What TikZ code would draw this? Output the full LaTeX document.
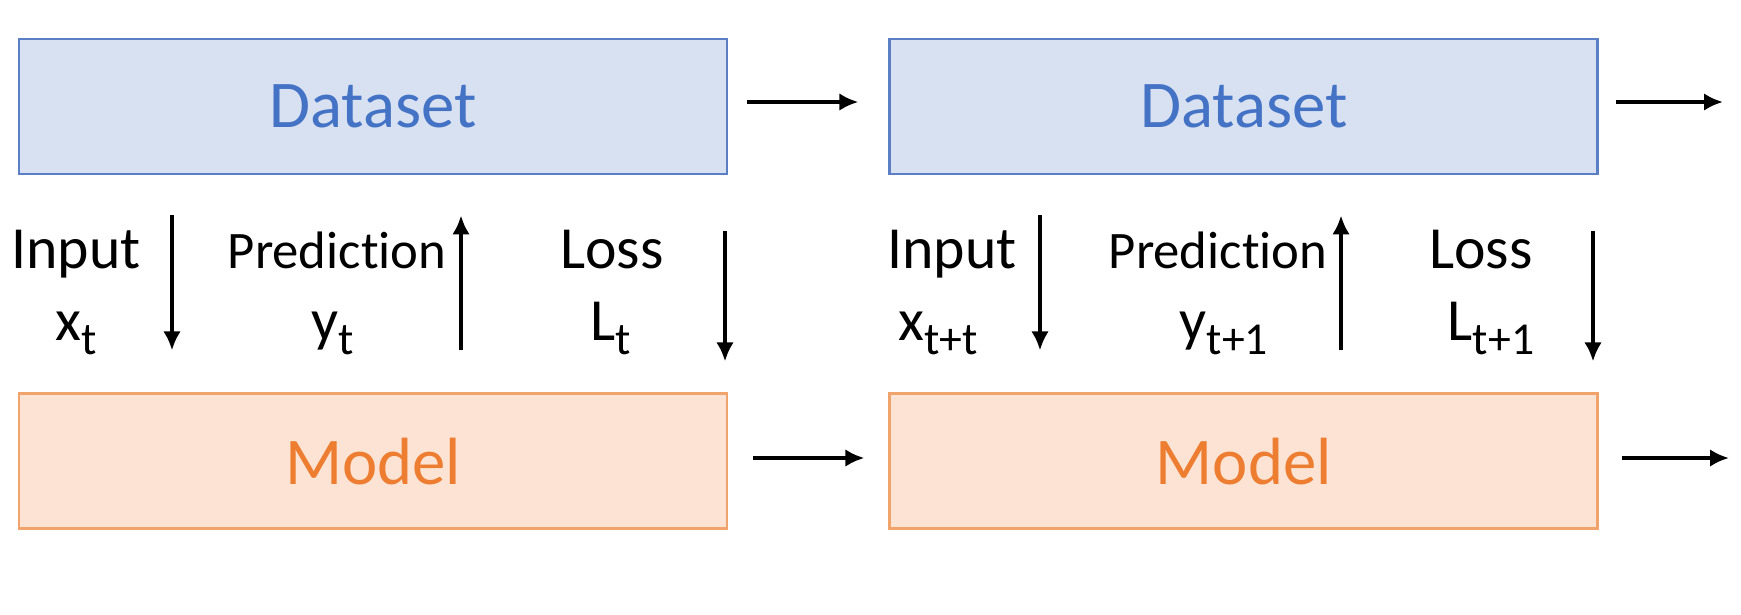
\documentclass[tikz,border=0pt]{standalone}
\usepackage{fontspec}
\setmainfont{Carlito}[Ligatures=NoCommon]
\usepackage{xcolor}
\usepackage{tikz}
\usetikzlibrary{positioning,arrows.meta}

\definecolor{dataline}{HTML}{5A7FC4}
\definecolor{datafill}{HTML}{D7E1F2}
\definecolor{datatext}{HTML}{4472C4}
\definecolor{modelline}{HTML}{F0A46C}
\definecolor{modelfill}{HTML}{FCE3D3}
\definecolor{modeltext}{HTML}{ED7D31}

\tikzset{
    databox/.style={draw=dataline, fill=datafill, line width=0.8pt, minimum width=7.08cm, minimum height=1.35cm, inner sep=0pt, text=datatext, font=\fontsize{19}{22}\selectfont},
    modelbox/.style={draw=modelline, fill=modelfill, line width=0.8pt, minimum width=7.08cm, minimum height=1.35cm, inner sep=0pt, text=modeltext, font=\fontsize{19}{22}\selectfont},
    lbl/.style={anchor=base, inner sep=0pt, font=\fontsize{17}{20}\selectfont},
    smalllbl/.style={anchor=base, inner sep=0pt, font=\fontsize{15}{18}\selectfont},
    flow/.style={-{Latex[length=5.4pt,width=5pt]}, line width=1.1pt}
}
\newcommand{\lowsub}[1]{\raisebox{-0.25em}{\fontsize{13}{15}\selectfont #1}}

\begin{document}
\begin{tikzpicture}
    \useasboundingbox (0,0) rectangle (17.41,6.14);

    \node[databox] (data1) at (3.73,5.075) {Dataset};
    \node[databox, right=1.6cm of data1] (data2) {Dataset};
    \node[modelbox, below=2.17cm of data1] (model1) {Model};
    \node[modelbox, below=2.17cm of data2] (model2) {Model};

    % labels between the rows
    \node[lbl] (in1) at (0.76,3.46) {Input};
    \node[lbl] (inx1) at (0.76,2.74) {x\lowsub{t}};
    \node[smalllbl] (pred1) at (3.37,3.46) {Prediction};
    \node[lbl] (predy1) at (3.33,2.74) {y\lowsub{t}};
    \node[lbl] (loss1) at (6.12,3.46) {Loss};
    \node[lbl] (lossl1) at (6.11,2.74) {L\lowsub{t}};

    \node[lbl] (in2) at (9.52,3.46) {Input};
    \node[lbl] (inx2) at (9.38,2.74) {x\lowsub{t+t}};
    \node[smalllbl] (pred2) at (12.18,3.46) {Prediction};
    \node[lbl] (predy2) at (12.24,2.74) {y\lowsub{t+1}};
    \node[lbl] (loss2) at (14.81,3.46) {Loss};
    \node[lbl] (lossl2) at (14.91,2.74) {L\lowsub{t+1}};

    \coordinate (a1) at (1.72,0);
    \coordinate (b1) at (4.61,0);
    \coordinate (c1) at (7.25,0);
    \coordinate (a2) at (10.40,0);
    \coordinate (b2) at (13.41,0);
    \coordinate (c2) at (15.93,0);
    \coordinate (datanext) at (17.23,5.12);
    \coordinate (modelnext) at (17.29,1.56);

    % vertical arrows
    \draw[flow, shorten <=0.40cm, shorten >=0.42cm] (data1.south -| a1) -- (model1.north -| a1);
    \draw[flow, shorten <=0.42cm, shorten >=0.40cm] (model1.north -| b1) -- (data1.south -| b1);
    \draw[flow, shorten <=0.56cm, shorten >=0.31cm] (data1.south -| c1) -- (model1.north -| c1);
    \draw[flow, shorten <=0.40cm, shorten >=0.42cm] (data2.south -| a2) -- (model2.north -| a2);
    \draw[flow, shorten <=0.42cm, shorten >=0.40cm] (model2.north -| b2) -- (data2.south -| b2);
    \draw[flow, shorten <=0.56cm, shorten >=0.31cm] (data2.south -| c2) -- (model2.north -| c2);

    % horizontal arrows
    \draw[flow, shorten <=0.19cm, shorten >=0.30cm] (data1.east |- datanext) -- (data2.west |- datanext);
    \draw[flow, shorten <=0.17cm] (data2.east |- datanext) -- (datanext);
    \draw[flow, shorten <=0.25cm, shorten >=0.24cm] (model1.east |- modelnext) -- (model2.west |- modelnext);
    \draw[flow, shorten <=0.23cm] (model2.east |- modelnext) -- (modelnext);
\end{tikzpicture}
\end{document}
